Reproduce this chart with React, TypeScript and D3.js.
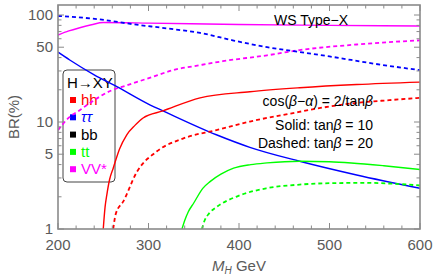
import React from 'react';
import * as d3 from 'd3';

type Pt = [number, number];

// BR(%) vs M_H. Solid: tanβ = 10, dashed: tanβ = 20
const hhSolid: Pt[] = [[250, 1], [252, 1.6], [254, 2.1], [257, 2.9], [261, 3.7], [268, 5.6], [276, 7.6], [285, 9.3], [294, 10.9], [316, 12.7], [357, 16.8], [412, 19.2], [467, 20.9], [530, 22.4], [600, 23.6]];
const hhDashed: Pt[] = [[261, 1], [264, 1.4], [272, 1.8], [287, 3.4], [309, 5.3], [338, 7.0], [375, 8.4], [412, 10.1], [457, 12.0], [494, 13.7], [530, 15.1], [566, 16.0], [600, 16.8]];
const tautauSolid: Pt[] = [[200, 45], [213, 38], [240, 27.6], [265, 21.4], [302, 14.4], [316, 12.7], [375, 7.6], [412, 5.8], [467, 4.3], [530, 3.2], [600, 2.4]];
const tautauDashed: Pt[] = [[200, 98], [246, 91], [283, 82], [320, 75], [357, 68], [393, 58], [431, 50], [460, 46], [500, 41], [550, 35], [600, 30.5]];
const ttSolid: Pt[] = [[337, 1], [340, 1.2], [344, 1.45], [350, 1.75], [360, 2.4], [368, 2.77], [380, 3.25], [394, 3.7], [413, 4.0], [431, 4.15], [467, 4.3], [500, 4.25], [524, 4.14], [560, 3.9], [600, 3.6]];
const ttDashed: Pt[] = [[359, 1], [362, 1.2], [367, 1.4], [375, 1.6], [400, 2.05], [430, 2.4], [467, 2.6], [500, 2.68], [540, 2.7], [570, 2.65], [600, 2.55]];
const vvSolid: Pt[] = [[200, 65], [212, 71], [224, 76], [237, 81], [250, 85], [300, 84], [400, 81.5], [500, 80], [600, 79]];
const vvDashed: Pt[] = [[200, 8.4], [212, 11], [224, 12.9], [236, 15.2], [260, 19.9], [276, 22], [302, 26], [327, 30.5], [357, 34], [382, 37], [431, 42], [467, 47], [530, 53], [600, 58]];

const xTicks = [200, 300, 400, 500, 600];
const yTicks = [1, 5, 10, 50, 100];

const curves = [
  { d: vvSolid, c: '#ff00ff', dash: false },
  { d: vvDashed, c: '#ff00ff', dash: true },
  { d: tautauSolid, c: '#0000ff', dash: false },
  { d: tautauDashed, c: '#0000ff', dash: true },
  { d: hhSolid, c: '#ff0000', dash: false },
  { d: hhDashed, c: '#ff0000', dash: true },
  { d: ttSolid, c: '#00ff00', dash: false },
  { d: ttDashed, c: '#00ff00', dash: true },
];

const legend = [
  { label: 'hh', c: '#ff0000', italic: false },
  { label: 'ττ', c: '#0000ff', italic: true },
  { label: 'bb', c: '#000000', italic: false },
  { label: 'tt', c: '#00ff00', italic: false },
  { label: 'VV*', c: '#ff00ff', italic: false },
];

const W = 436;
const H = 279;
const left = 58, right = 420, top = 5, bottom = 229;
const font = '"Liberation Sans", Arial, sans-serif';
const gray = '#5a5a5a';
const frame = '#8a8a8a';

export default function App() {
  const x = d3.scaleLinear().domain([200, 600]).range([left, right]);
  const y = d3.scaleLog().domain([1, Math.pow(10, (bottom - top) / 107)]).range([bottom, top]);

  const line = d3.line<Pt>()
    .x(d => x(d[0]))
    .y(d => y(d[1]))
    .curve(d3.curveMonotoneX);

  const xMinor = d3.range(200, 601, 20);
  const yMinor: number[] = [];
  [1, 10].forEach(dec => {
    for (let k = 1; k <= 9; k++) yMinor.push(dec * k);
  });
  yMinor.push(100);

  return (
    <svg width={W} height={H} style={{ position: 'absolute', left: 0, top: 0 }} fontFamily={font}>
      <defs>
        <clipPath id="plot">
          <rect x={left} y={top} width={right - left} height={bottom - top} />
        </clipPath>
      </defs>
      <rect width={W} height={H} fill="#fff" />

      {/* legend box */}
      <rect x={63} y={70} width={52} height={112} rx={4} fill="none" stroke="#444" strokeWidth={1} />
      <text x={67} y={88} fontSize={15} fill="#000">H→XY</text>
      {legend.map((l, i) => (
        <g key={l.label}>
          <rect x={70} y={100 + i * 17.3 - 3} width={6} height={6} fill={l.c} />
          <text x={81} y={100 + i * 17.3 + 5} fontSize={15} fill={l.c} fontStyle={l.italic ? 'italic' : 'normal'}>{l.label}</text>
        </g>
      ))}

      {/* curves */}
      <g clipPath="url(#plot)">
        {curves.map((cv, i) => (
          <path key={i} d={line(cv.d) || ''} fill="none" stroke={cv.c}
            strokeWidth={cv.dash ? 1.8 : 1.4}
            strokeDasharray={cv.dash ? '4,3' : undefined} />
        ))}
      </g>

      {/* ticks */}
      <g stroke={frame} strokeWidth={1}>
        {xMinor.map(v => {
          const len = v % 100 === 0 ? 6 : 3.5;
          return (
            <g key={'x' + v}>
              <line x1={x(v)} x2={x(v)} y1={bottom} y2={bottom - len} />
              <line x1={x(v)} x2={x(v)} y1={top} y2={top + len} />
            </g>
          );
        })}
        {yMinor.map(v => {
          const len = yTicks.includes(v) ? 6 : 3.5;
          return (
            <g key={'y' + v}>
              <line x1={left} x2={left + len} y1={y(v)} y2={y(v)} />
              <line x1={right} x2={right - len} y1={y(v)} y2={y(v)} />
            </g>
          );
        })}
      </g>
      <rect x={left} y={top} width={right - left} height={bottom - top} fill="none" stroke={frame} strokeWidth={1.6} />

      {/* tick labels */}
      {xTicks.map(v => (
        <text key={v} x={x(v)} y={250} fontSize={15} fill={gray} textAnchor="middle">{v}</text>
      ))}
      {yTicks.map(v => (
        <text key={v} x={53} y={y(v) + 5} fontSize={15} fill={gray} textAnchor="end">{v}</text>
      ))}

      {/* axis labels */}
      <text transform="translate(19,117) rotate(-90)" fontSize={15} fill={gray} textAnchor="middle">BR(%)</text>
      <text x={239} y={271} fontSize={15} fill={gray} textAnchor="middle">
        <tspan fontStyle="italic">M</tspan>
        <tspan fontStyle="italic" fontSize={10} dy={3}>H</tspan>
        <tspan dy={-3}> GeV</tspan>
      </text>

      {/* annotations */}
      <text x={311} y={25} fontSize={14} fill="#000" textAnchor="middle">WS Type−X</text>
      <text x={373} y={106} fontSize={14} fill="#000" textAnchor="end">
        cos(<tspan fontStyle="italic">β</tspan>−<tspan fontStyle="italic">α</tspan>) = 2/tan<tspan fontStyle="italic">β</tspan>
      </text>
      <text x={373} y={130} fontSize={14} fill="#000" textAnchor="end">
        Solid: tan<tspan fontStyle="italic">β</tspan> = 10
      </text>
      <text x={373} y={148} fontSize={14} fill="#000" textAnchor="end">
        Dashed: tan<tspan fontStyle="italic">β</tspan> = 20
      </text>
    </svg>
  );
}
